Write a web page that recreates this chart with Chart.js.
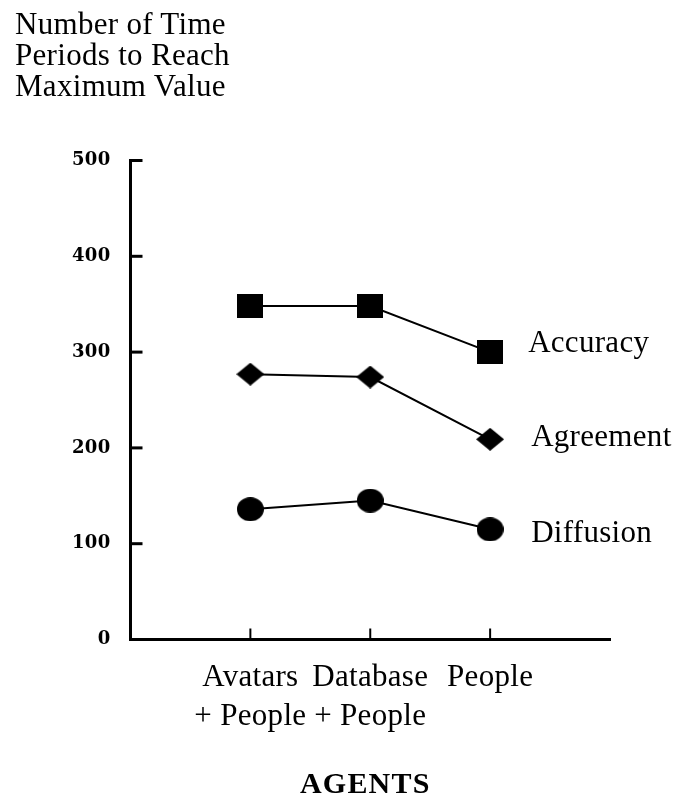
<!DOCTYPE html>
<html>
<head>
<meta charset="utf-8">
<script src="https://cdn.jsdelivr.net/npm/chart.js@4/dist/chart.umd.min.js"></script>
<style>
    html, body { margin: 0; padding: 0; background: #fff; }
    #wrap { position: relative; width: 677px; height: 795px; }
    #title {
        position: absolute; left: 15px; top: 8px;
        font: 31px/31px 'Liberation Serif', 'Times New Roman', serif;
        letter-spacing: 0.3px; color: #000;
    }
    #xtitle {
        position: absolute; left: 300px; top: 768px;
        font: bold 30px/30px 'Liberation Serif', 'Times New Roman', serif;
        letter-spacing: 1.2px; color: #000;
    }
</style>
</head>
<body>
<div id="wrap">
    <canvas id="chart"></canvas>
    <div id="title">Number of Time<br>Periods to Reach<br>Maximum Value</div>
    <div id="xtitle">AGENTS</div>
</div>
<script>
// 数据
const agents = [['Avatars', '+ People'], ['Database', '+ People'], ['People']];
const seriesNames = ['Accuracy', 'Agreement', 'Diffusion'];
const accuracy = [348, 348, 300];
const agreement = [277, 274, 209];
const diffusion = [136, 145, 115];
const yTicks = [0, 100, 200, 300, 400, 500];

// 点的形状
function marker(w, h, draw) {
    const c = document.createElement('canvas');
    c.width = w;
    c.height = h;
    const g = c.getContext('2d');
    g.fillStyle = '#000';
    g.beginPath();
    draw(g, w, h);
    g.fill();
    return c;
}
const square = marker(26, 24, (g, w, h) => g.rect(0, 0, w, h));
const diamond = marker(28, 23, (g, w, h) => {
    g.moveTo(w / 2, 0); g.lineTo(w, h / 2); g.lineTo(w / 2, h); g.lineTo(0, h / 2); g.closePath();
});
const ellipse = marker(27, 24, (g, w, h) => g.ellipse(w / 2, h / 2, w / 2, h / 2, 0, 0, Math.PI * 2));

const toPoints = arr => arr.map((v, i) => ({ x: i + 1, y: v }));

// 刻度线（朝内）
const tickMarks = {
    id: 'tickMarks',
    beforeDraw(chart) {
        chart.ctx.letterSpacing = '0.3px';
    },
    beforeDatasetsDraw(chart) {
        const { ctx, chartArea, scales: { x, y } } = chart;
        ctx.save();
        ctx.strokeStyle = '#000';
        ctx.lineWidth = 3;
        y.ticks.forEach(t => {
            const py = y.getPixelForValue(t.value);
            ctx.beginPath();
            ctx.moveTo(chartArea.left, py);
            ctx.lineTo(chartArea.left + 12, py);
            ctx.stroke();
        });
        ctx.lineWidth = 2;
        x.ticks.forEach(t => {
            const px = x.getPixelForValue(t.value);
            ctx.beginPath();
            ctx.moveTo(px, chartArea.bottom);
            ctx.lineTo(px, chartArea.bottom - 11);
            ctx.stroke();
        });
        ctx.restore();
    }
};

// 右侧系列名称
const seriesLabels = {
    id: 'seriesLabels',
    afterDatasetsDraw(chart, args, opts) {
        const ctx = chart.ctx;
        ctx.save();
        ctx.font = '31px "Liberation Serif", "Times New Roman", serif';
        ctx.letterSpacing = '0.3px';
        ctx.fillStyle = '#000';
        ctx.textAlign = 'left';
        ctx.textBaseline = 'middle';
        chart.data.datasets.forEach((ds, i) => {
            const pts = chart.getDatasetMeta(i).data;
            const last = pts[pts.length - 1];
            ctx.fillText(ds.label, last.x + opts.dx[i], last.y + opts.dy[i]);
        });
        ctx.restore();
    }
};

const line = (label, values, style) => ({
    label: label,
    data: toPoints(values),
    borderColor: '#000',
    backgroundColor: '#000',
    borderWidth: 2,
    tension: 0,
    pointStyle: style,
    pointRadius: 13,
    pointHoverRadius: 13
});

new Chart(document.getElementById('chart').getContext('2d'), {
    type: 'line',
    data: {
        datasets: [
            line(seriesNames[0], accuracy, square),
            line(seriesNames[1], agreement, diamond),
            line(seriesNames[2], diffusion, ellipse)
        ]
    },
    options: {
        responsive: true,
        maintainAspectRatio: false,
        animation: false,
        layout: { padding: { top: 160.5, right: 67, left: 0, bottom: 0 } },
        plugins: {
            legend: { display: false },
            tooltip: { enabled: false },
            seriesLabels: { dx: [38, 41, 41], dy: [-8, -1, 5] }
        },
        scales: {
            x: {
                type: 'linear',
                min: 0,
                max: 4,
                afterBuildTicks: scale => { scale.ticks = agents.map((_, i) => ({ value: i + 1 })); },
                afterFit: scale => { scale.height = 155.5; },
                grid: { display: false, drawTicks: false },
                border: { display: true, color: '#000', width: 3 },
                ticks: {
                    autoSkip: false,
                    maxRotation: 0,
                    padding: 19,
                    color: '#000',
                    font: { family: "'Liberation Serif', 'Times New Roman', serif", size: 31, lineHeight: '39px' },
                    callback: v => agents[v - 1] || ''
                }
            },
            y: {
                min: 0,
                max: 500,
                afterBuildTicks: scale => { scale.ticks = yTicks.map(v => ({ value: v })); },
                afterFit: scale => { scale.width = 130.5; },
                grid: { display: false, drawTicks: false },
                border: { display: true, color: '#000', width: 3 },
                ticks: {
                    padding: 20,
                    color: '#000',
                    font: { family: "'DejaVu Serif', serif", size: 18, weight: 'bold' }
                }
            }
        }
    },
    plugins: [tickMarks, seriesLabels]
});
</script>
</body>
</html>
